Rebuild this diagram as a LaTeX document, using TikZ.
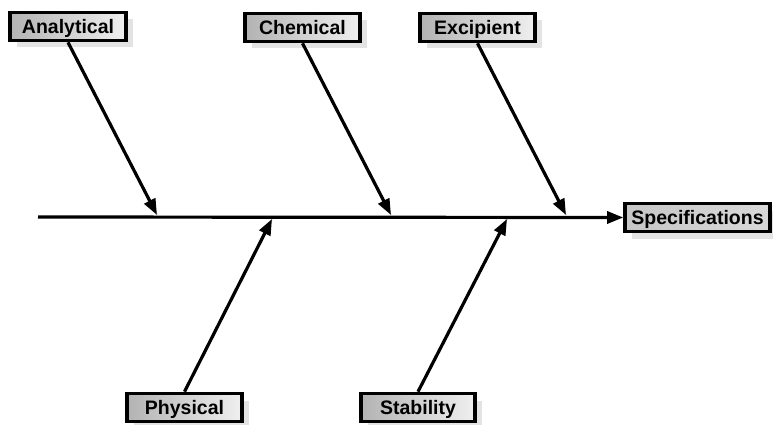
\documentclass[tikz,border=0pt]{standalone}
\usepackage{fontspec}
\setmainfont{Liberation Sans}
\usetikzlibrary{arrows.meta,shadows}
\begin{document}
\begin{tikzpicture}[x=1pt,y=-1pt,
  catbox/.style={draw=black, line width=3.6pt, left color=gray!60, right color=gray!12,
    minimum height=28pt, inner sep=0pt, text height=16pt, text depth=2pt,
    font=\fontsize{19.5}{20}\selectfont\bfseries,
    drop shadow={shadow xshift=7pt, shadow yshift=-7pt, fill=gray!22, opacity=1}},
  bone/.style={line width=3.2pt, -{Triangle[length=16pt,width=12pt]}},
  boneshadow/.style={line width=2pt, gray!25}]
\useasboundingbox (0,0) rectangle (773,425);
% nodes
\node[catbox, minimum width=116pt] (ana) at (68,26.5) {Analytical};
\node[catbox, minimum width=115pt] (che) at (302.5,27.5) {Chemical};
\node[catbox, minimum width=115pt] (exc) at (477.5,27.5) {Excipient};
\node[catbox, minimum width=145pt, left color=gray!45, right color=gray!30] (spe) at (697.5,217.5) {Specifications};
\node[catbox, minimum width=115pt] (phy) at (184.5,407.5) {Physical};
\node[catbox, minimum width=114pt] (sta) at (418,407.5) {Stability};
% spine coordinates
\coordinate (s0) at (38,217);
\coordinate (a1) at (157,215);
\coordinate (c1) at (391,215);
\coordinate (e1) at (566,215);
\coordinate (p1) at (272,219);
\coordinate (t1) at (507,219);
% shadows
\begin{scope}[shift={(4pt,-5pt)}]
\draw[boneshadow] (s0) -- (spe.west);
\draw[boneshadow] (ana.south) -- (a1);
\draw[boneshadow] (che.south) -- (c1);
\draw[boneshadow] (exc.south) -- (e1);
\draw[boneshadow] (phy.north) -- (p1);
\draw[boneshadow] (sta.north) -- (t1);
\end{scope}
% spine and bones
\draw[bone] (s0) -- (spe.west);
\draw[bone] (ana.south) -- (a1);
\draw[bone] (che.south) -- (c1);
\draw[bone] (exc.south) -- (e1);
\draw[bone] (phy.north) -- (p1);
\draw[bone] (sta.north) -- (t1);
\end{tikzpicture}
\end{document}
